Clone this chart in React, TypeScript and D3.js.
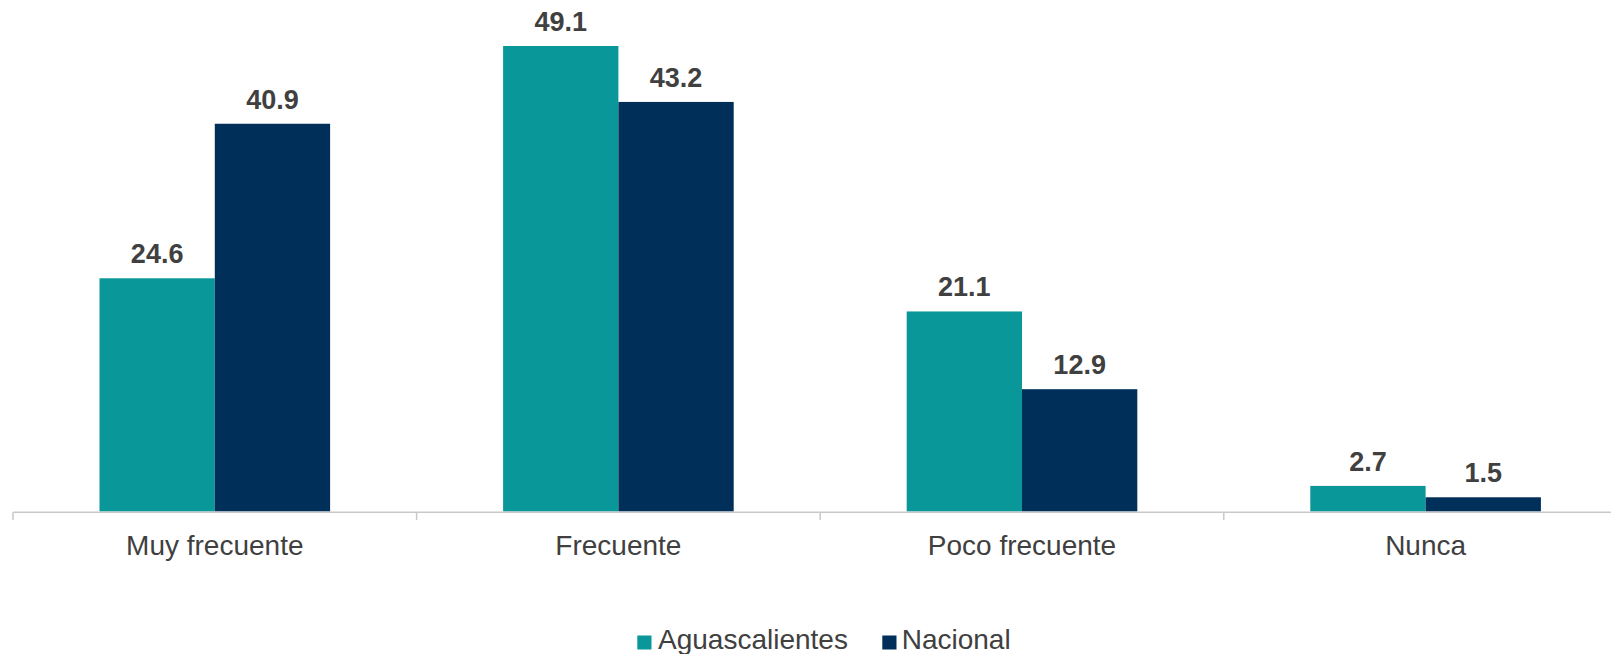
import React from "react";
import * as d3 from "d3";

const categories = ["Muy frecuente", "Frecuente", "Poco frecuente", "Nunca"];
const seriesNames = ["Aguascalientes", "Nacional"];
const aguascalientes = [24.6, 49.1, 21.1, 2.7];
const nacional = [40.9, 43.2, 12.9, 1.5];
const seriesColors = ["#0a979a", "#00305a"];

const W = 1611;
const H = 654;

export default function App() {
  const step = 403.6;
  const left = 13;
  const x0 = d3
    .scaleBand<string>()
    .domain(categories)
    .range([left, left + step * categories.length])
    .paddingInner(0.4286)
    .paddingOuter(0.2143);
  const x1 = d3
    .scaleBand<string>()
    .domain(seriesNames)
    .range([0, x0.bandwidth()])
    .padding(0);
  const baseY = 511.5;
  const y = d3.scaleLinear().domain([0, 49.1]).range([baseY, 46]);
  const values = [aguascalientes, nacional];
  const tickPositions = d3.range(categories.length + 1).map((i) => left + i * x0.step());
  const fontFamily = "Liberation Sans, Arial, Helvetica, sans-serif";

  const legendItems = [
    { name: seriesNames[0], sq: 637.3, tx: 658 },
    { name: seriesNames[1], sq: 882.3, tx: 901.7 },
  ];

  return (
    <svg
      width={W}
      height={H}
      style={{ position: "absolute", left: 0, top: 0, display: "block", background: "#fff" }}
      fontFamily={fontFamily}
    >
      <rect x={0} y={0} width={W} height={H} fill="#fff" />
      {categories.map((c, ci) => (
        <g key={c}>
          {seriesNames.map((s, si) => {
            const v = values[si][ci];
            const bx = (x0(c) as number) + (x1(s) as number);
            return (
              <g key={s}>
                <rect
                  x={bx}
                  y={y(v)}
                  width={x1.bandwidth()}
                  height={baseY - y(v)}
                  fill={seriesColors[si]}
                />
                <text
                  x={bx + x1.bandwidth() / 2}
                  y={y(v) - 15}
                  textAnchor="middle"
                  fontSize={27}
                  fontWeight="bold"
                  fill="#404040"
                >
                  {v.toFixed(1)}
                </text>
              </g>
            );
          })}
          <text
            x={(x0(c) as number) + x0.bandwidth() / 2}
            y={555}
            textAnchor="middle"
            fontSize={28}
            fill="#404040"
          >
            {c}
          </text>
        </g>
      ))}
      <line x1={left} x2={W} y1={512.3} y2={512.3} stroke="#c9c9c9" strokeWidth={1.5} />
      {tickPositions.map((tx, i) => (
        <line key={i} x1={tx} x2={tx} y1={512.3} y2={520} stroke="#c9c9c9" strokeWidth={1.5} />
      ))}
      {legendItems.map((it, i) => (
        <g key={it.name}>
          <rect x={it.sq} y={635.5} width={14.2} height={14} fill={seriesColors[i]} />
          <text x={it.tx} y={649.3} fontSize={28} fill="#404040">
            {it.name}
          </text>
        </g>
      ))}
    </svg>
  );
}
